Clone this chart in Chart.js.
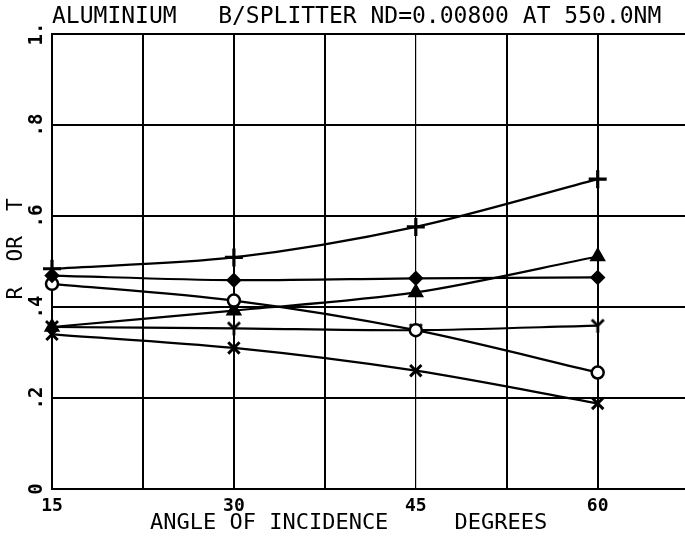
<!DOCTYPE html>
<html>
<head>
<meta charset="utf-8">
<script src="https://cdn.jsdelivr.net/npm/chart.js@4"></script>
<style>
  html, body { margin: 0; padding: 0; background: #fff; }
  #wrap { width: 685px; height: 536px; }
</style>
</head>
<body>
<div id="wrap"><canvas id="chart"></canvas></div>
<script>
// Angle of incidence (degrees) and R / T values for each curve
const angles = [15, 30, 45, 60];
const plusValues = [0.484, 0.509, 0.576, 0.681];
const diamondValues = [0.469, 0.459, 0.463, 0.465];
const circleValues = [0.451, 0.414, 0.349, 0.256];
const triangleValues = [0.356, 0.392, 0.432, 0.511];
const yMarkValues = [0.356, 0.353, 0.349, 0.359];
const xMarkValues = [0.340, 0.310, 0.260, 0.188];

// grid every 7.5 degrees, labels every 15; the axis runs past the last grid line
const xGridTicks = [15, 22.5, 30, 37.5, 45, 52.5, 60];
const xLabelTicks = [15, 30, 45, 60];
const xMax = 67.2;
const yTickLabels = ['0', '.2', '.4', '.6', '.8', '1.'];

const plotFont = '"DejaVu Sans Mono", monospace';

// "Y" shaped marker, not one of the built-in point styles
function makeYMarker(size, lw) {
  const c = document.createElement('canvas');
  c.width = size;
  c.height = size;
  const g = c.getContext('2d');
  const m = size / 2;
  g.strokeStyle = '#000';
  g.lineWidth = lw;
  g.beginPath();
  g.moveTo(2, 2);
  g.lineTo(m, m);
  g.lineTo(size - 2, 2);
  g.moveTo(m, m);
  g.lineTo(m, size - 1);
  g.stroke();
  return c;
}

function toPoints(values) {
  return angles.map((a, i) => ({ x: a, y: values[i] }));
}

function series(values, style, extra) {
  return Object.assign({
    data: toPoints(values),
    borderColor: '#000',
    borderWidth: 2.2,
    tension: 0.3,
    clip: false,
    pointStyle: style,
    pointRadius: 7,
    pointBorderColor: '#000',
    pointBorderWidth: 2.5,
    pointBackgroundColor: '#000'
  }, extra || {});
}

// no grid line for the hidden tick at the right edge
function xGridColor(c) {
  if (!c.tick || c.tick.value > 60) return 'rgba(0,0,0,0)';
  return '#000';
}

const ctx = document.getElementById('chart').getContext('2d');
new Chart(ctx, {
  type: 'line',
  data: {
    datasets: [
      series(plusValues, 'cross', { pointRadius: 9, pointBorderWidth: 3.2 }),
      series(diamondValues, 'rectRot', { pointRadius: 6 }),
      series(circleValues, 'circle', { pointBackgroundColor: '#fff', pointRadius: 6 }),
      series(triangleValues, 'triangle', { pointRadius: 7 }),
      series(yMarkValues, makeYMarker(16, 2.8)),
      series(xMarkValues, 'crossRot', { pointRadius: 8, pointBorderWidth: 3 })
    ]
  },
  options: {
    responsive: true,
    maintainAspectRatio: false,
    animation: false,
    layout: { autoPadding: false, padding: { left: 6, right: 0, top: 4, bottom: 2 } },
    plugins: {
      legend: { display: false },
      tooltip: { enabled: false },
      title: {
        display: true,
        text: 'ALUMINIUM   B/SPLITTER ND=0.00800 AT 550.0NM',
        align: 'start',
        fullSize: false,
        color: '#000',
        font: { family: plotFont, size: 23, weight: 'normal', lineHeight: 1 },
        padding: { top: 2, bottom: 5 }
      }
    },
    scales: {
      x: {
        type: 'linear',
        min: 15,
        max: xMax,
        afterBuildTicks: axis => {
          // keep an unlabeled tick at the far edge so no label padding is reserved there
          axis.ticks = xGridTicks.concat([xMax]).map(v => ({ value: v }));
        },
        grid: {
          color: xGridColor,
          lineWidth: c => (c.tick && c.tick.value === 45 ? 1.2 : 2),
          drawTicks: false,
          tickLength: 0
        },
        border: { color: '#000', width: 2 },
        ticks: {
          color: '#000',
          maxRotation: 0,
          padding: 0,
          font: { family: plotFont, size: 18, weight: 'bold', lineHeight: 1.89 },
          callback: v => xLabelTicks.includes(v) ? String(v) : ''
        },
        title: {
          display: true,
          text: 'ANGLE OF INCIDENCE     DEGREES   ',
          color: '#000',
          font: { family: plotFont, size: 22, lineHeight: 1 },
          padding: { top: -11, bottom: 0 }
        }
      },
      y: {
        min: 0,
        max: 1,
        grid: { color: '#000', lineWidth: 2, drawTicks: false, tickLength: 0 },
        border: { color: '#000', width: 2 },
        ticks: {
          stepSize: 0.2,
          color: '#000',
          minRotation: 90,
          maxRotation: 90,
          crossAlign: 'center',
          padding: 3,
          font: { family: plotFont, size: 19, weight: 'bold', lineHeight: 1 },
          callback: (v, i) => yTickLabels[i]
        },
        title: {
          display: true,
          text: '  R  OR  T',
          color: '#000',
          font: { family: plotFont, size: 21, lineHeight: 1 },
          padding: { top: 0, bottom: 0 }
        }
      }
    }
  }
});
</script>
</body>
</html>
